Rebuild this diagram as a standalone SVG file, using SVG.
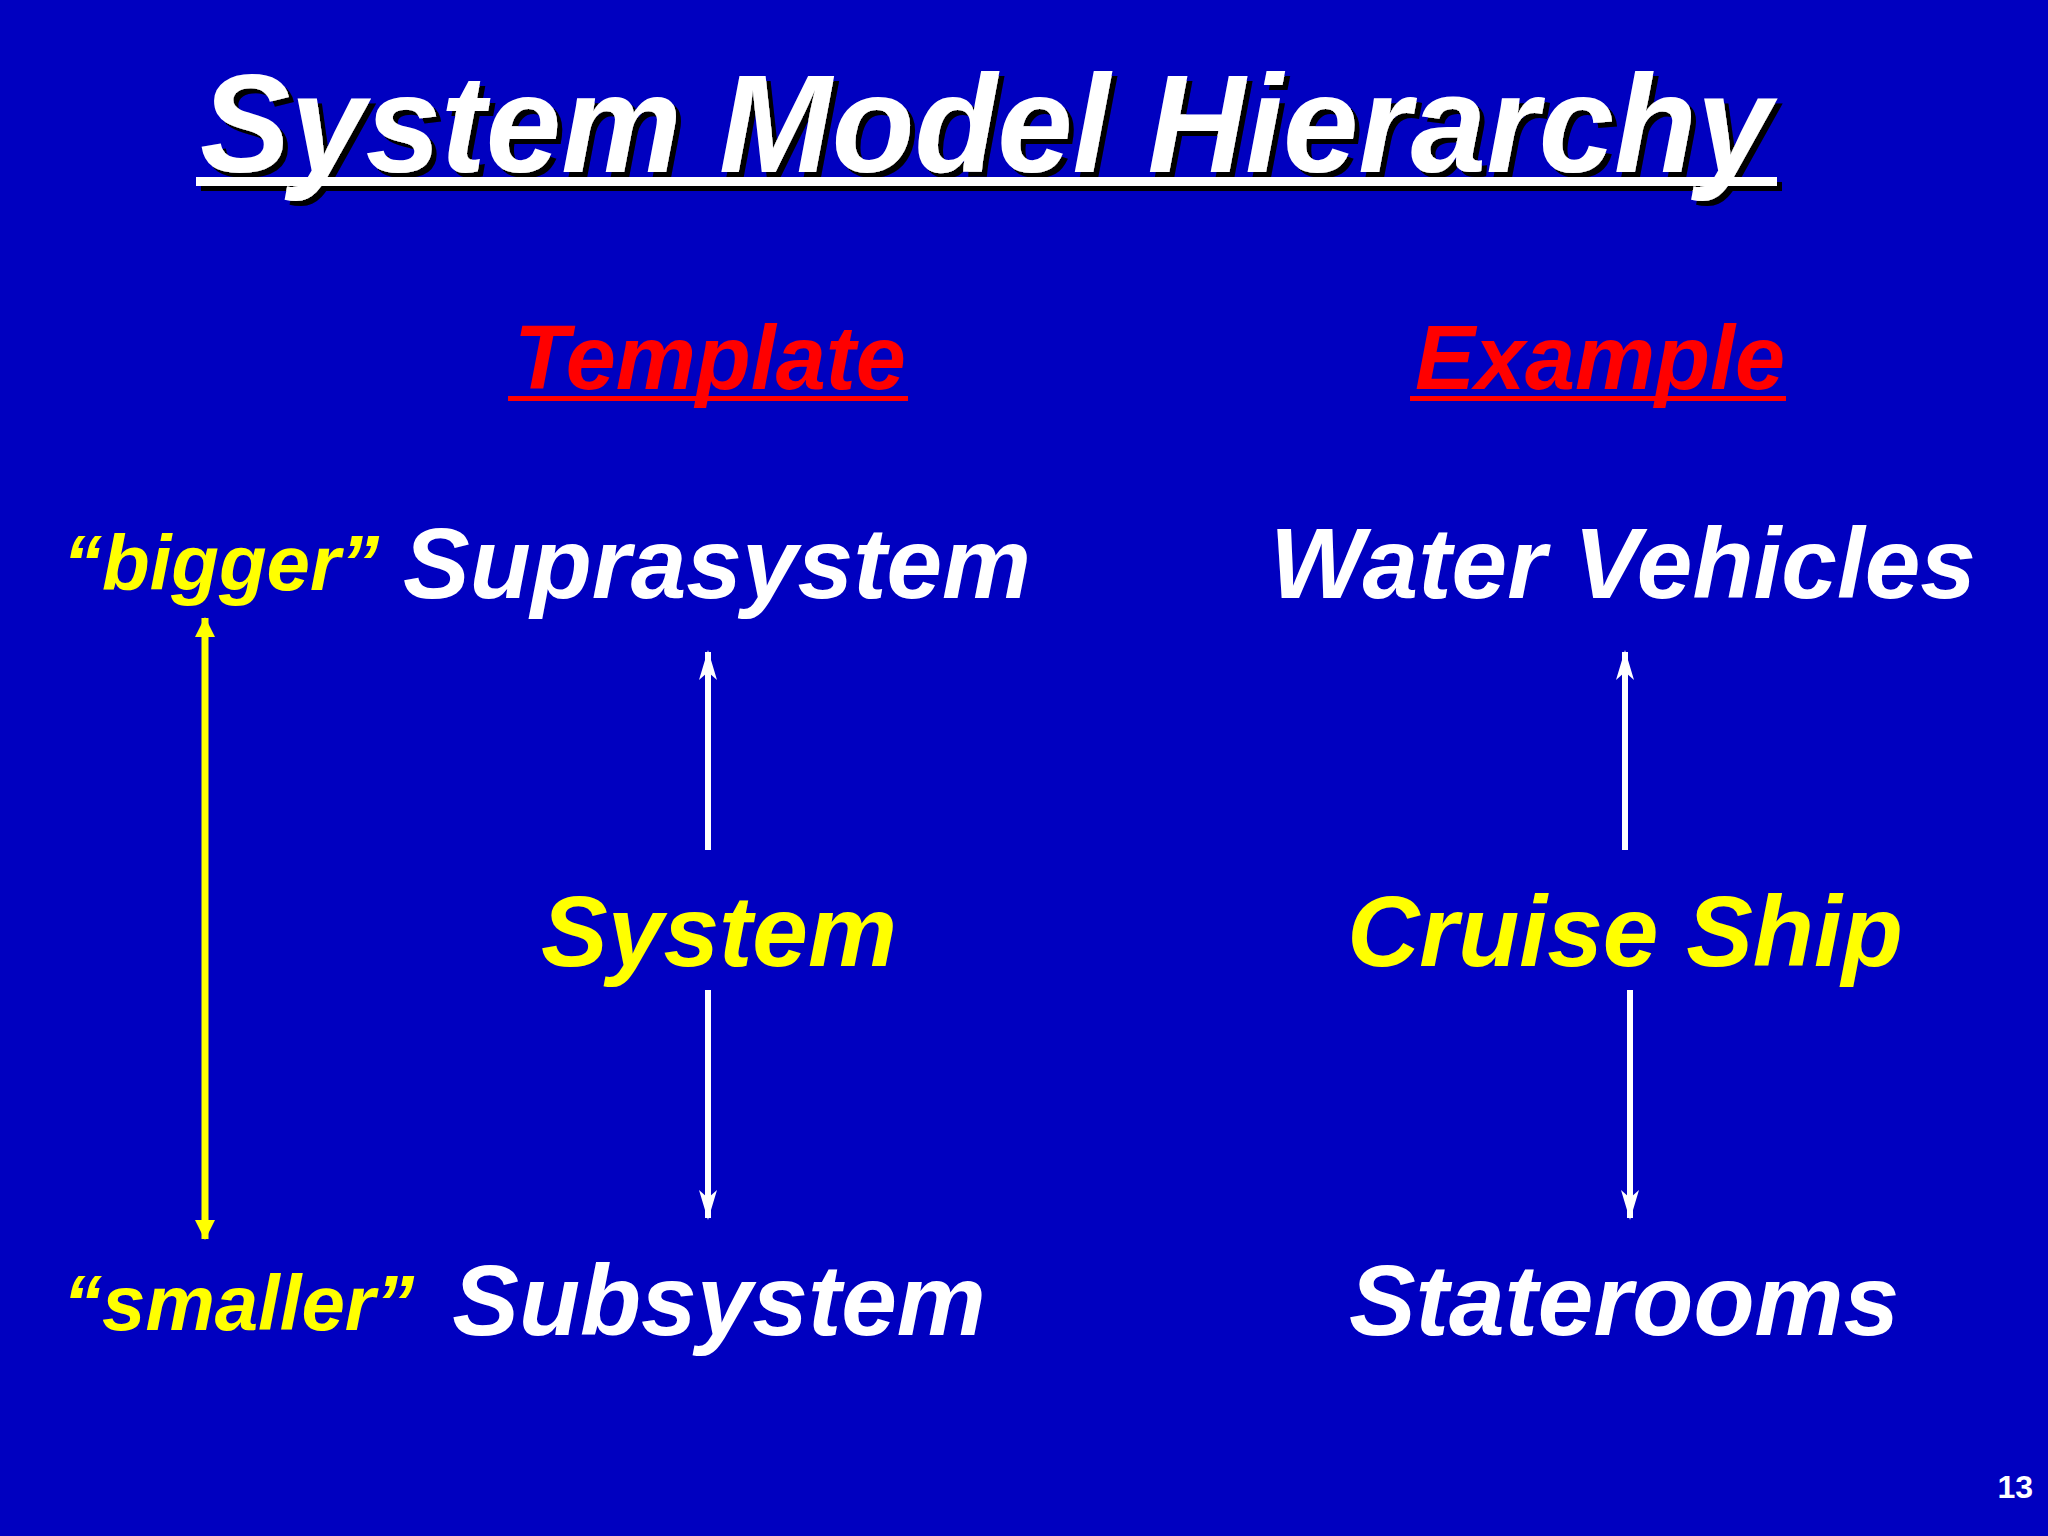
<svg xmlns="http://www.w3.org/2000/svg" width="2048" height="1536" viewBox="0 0 2048 1536">
<style>
  .t { font-family: "Liberation Sans", Arial, sans-serif; font-weight: bold; font-style: italic; }
  .big { font-size: 100px; text-anchor: middle; }
  .w { fill: #FFFFFF; }
  .y { fill: #FFFF00; }
  .r { fill: #FF0000; }
  .q { font-size: 78px; }
</style>
<defs>
  <filter id="shadow" x="-5%" y="-20%" width="110%" height="140%">
    <feFlood flood-color="#000000"/>
    <feComposite in2="SourceAlpha" operator="in"/>
    <feOffset dx="5" dy="5" result="s"/>
    <feMerge><feMergeNode in="s"/><feMergeNode in="SourceGraphic"/></feMerge>
  </filter>
  <marker id="wh" viewBox="0 0 30 20" refX="28" refY="10" markerWidth="30" markerHeight="20" markerUnits="userSpaceOnUse" orient="auto">
    <path d="M0,1 L30,10 L0,19 L8,10 Z" fill="#FFFFFF"/>
  </marker>
  <marker id="yh" viewBox="0 0 20 20" refX="19" refY="10" markerWidth="20" markerHeight="20" markerUnits="userSpaceOnUse" orient="auto-start-reverse">
    <path d="M0,0 L20,10 L0,20 Z" fill="#FFFF00"/>
  </marker>
</defs>
<rect width="2048" height="1536" fill="#0000C0"/>

<g id="title" filter="url(#shadow)">
  <text class="t w" x="986" y="172" font-size="140" text-anchor="middle" textLength="1572" lengthAdjust="spacingAndGlyphs">System Model Hierarchy</text>
  <rect x="196" y="177" width="1581" height="9" fill="#FFFFFF"/>
</g>

<g id="template-heading">
  <text class="t r" x="710" y="389" font-size="90" text-anchor="middle">Template</text>
  <rect x="508" y="396" width="400" height="5" fill="#FF0000"/>
</g>
<g id="example-heading">
  <text class="t r" x="1600" y="389" font-size="90" text-anchor="middle">Example</text>
  <rect x="1410" y="396" width="376" height="5" fill="#FF0000"/>
</g>

<g id="bigger"><text class="t y q" x="63" y="590">“bigger”</text></g>
<g id="smaller"><text class="t y q" x="63" y="1330">“smaller”</text></g>

<g id="suprasystem"><text class="t big w" x="717" y="598">Suprasystem</text></g>
<g id="system"><text class="t big y" x="719" y="966">System</text></g>
<g id="subsystem"><text class="t big w" x="719" y="1335">Subsystem</text></g>

<g id="water-vehicles"><text class="t big w" x="1623" y="598">Water Vehicles</text></g>
<g id="cruise-ship"><text class="t big y" x="1625" y="966">Cruise Ship</text></g>
<g id="staterooms"><text class="t big w" x="1624" y="1335">Staterooms</text></g>

<g id="connectors" fill="none">
  <line x1="708" y1="850" x2="708" y2="652" stroke="#FFFFFF" stroke-width="6" marker-end="url(#wh)"/>
  <line x1="708" y1="990" x2="708" y2="1218" stroke="#FFFFFF" stroke-width="6" marker-end="url(#wh)"/>
  <line x1="1625" y1="850" x2="1625" y2="652" stroke="#FFFFFF" stroke-width="6" marker-end="url(#wh)"/>
  <line x1="1630" y1="990" x2="1630" y2="1218" stroke="#FFFFFF" stroke-width="6" marker-end="url(#wh)"/>
  <line x1="205" y1="618" x2="205" y2="1239" stroke="#FFFF00" stroke-width="7" marker-start="url(#yh)" marker-end="url(#yh)"/>
</g>

<g id="page-number"><text x="2033" y="1498" font-family="Liberation Sans, Arial, sans-serif" font-weight="bold" font-size="32" fill="#FFFFFF" text-anchor="end">13</text></g>
</svg>
